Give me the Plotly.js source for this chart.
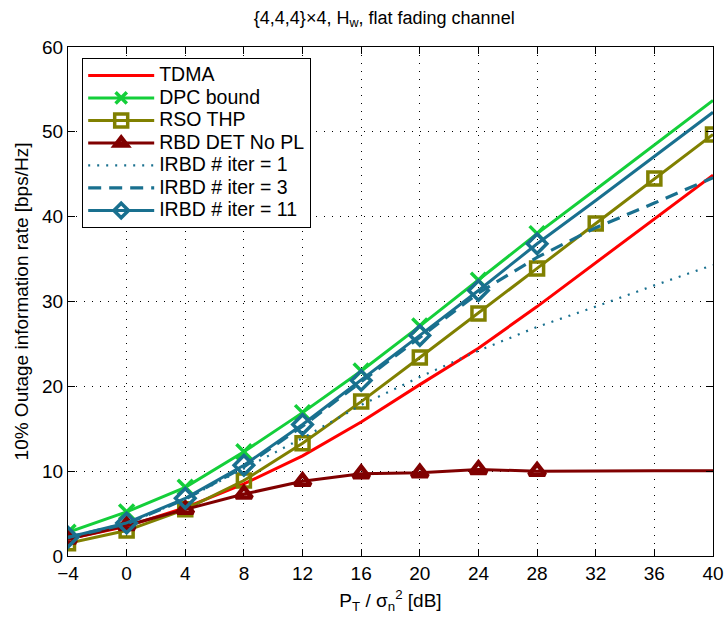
<!DOCTYPE html>
<html><head><meta charset="utf-8">
<script src="https://cdn.plot.ly/plotly-3.0.1.min.js"></script>
<style>body{margin:0;background:#fff}#chart{width:725px;height:622px}</style>
</head><body><div id="chart"></div>
<script>
const snr = [-4, 0, 4, 8, 12, 16, 20, 24, 28, 32, 36, 40];
const tdma = [2.0, 3.5, 5.7, 8.5, 11.8, 15.8, 20.2, 24.5, 29.4, 34.6, 39.8, 44.9];
const dpc = [2.8, 5.2, 8.1, 12.3, 16.9, 21.8, 27.1, 32.5, 38.0, 43.2, 48.5, 53.7];
const rsoThp = [1.5, 3.0, 5.5, 8.9, 13.3, 18.2, 23.4, 28.6, 33.9, 39.2, 44.5, 49.7];
const rbdDet = [2.0, 3.6, 5.5, 7.3, 8.8, 9.7, 9.8, 10.2, 10.0, 10.05, 10.05, 10.05];
const irbd1 = [2.2, 3.8, 6.7, 10.3, 13.9, 17.8, 21.1, 24.2, 27.0, 29.4, 31.9, 34.3];
const irbd3 = [2.2, 3.8, 6.7, 10.5, 15.3, 20.5, 25.8, 31.0, 35.2, 38.7, 41.6, 44.6];
const irbd11 = [2.2, 3.9, 6.8, 10.7, 15.5, 20.7, 26.0, 31.3, 36.8, 41.9, 47.1, 52.3];
const names = ['TDMA', 'DPC bound', 'RSO THP', 'RBD DET No PL', 'IRBD # iter = 1', 'IRBD # iter = 3', 'IRBD # iter = 11'];
const yTicks = [0, 10, 20, 30, 40, 50, 60];

const cRed = '#ff0000', cGreen = '#14cf3a', cOlive = '#808000', cMaroon = '#800000', cBlue = '#19708f';
const upTo28 = (s) => snr.map(v => v <= 28 ? s : 0);
const lg = (t) => '<span style="font-size:19.5px">' + t + '</span>';

const traces = [
  {x: snr, y: tdma, name: lg(names[0]), mode: 'lines', line: {color: cRed, width: 3}},
  {x: snr, y: dpc, name: lg(names[1]), mode: 'lines+markers', line: {color: cGreen, width: 3},
   marker: {symbol: 'x-thin-open', size: upTo28(15), opacity: 1, color: cGreen, line: {color: cGreen, width: 3.5}}},
  {x: snr, y: rsoThp, name: lg(names[2]), mode: 'lines+markers', line: {color: cOlive, width: 3},
   marker: {symbol: 'square-open', size: 13, opacity: 1, color: cOlive, line: {color: cOlive, width: 3.5}}},
  {x: snr, y: rbdDet, name: lg(names[3]), mode: 'lines+markers', line: {color: cMaroon, width: 3},
   marker: {symbol: 'triangle-up-open', size: upTo28(14), opacity: 1, color: cMaroon, line: {color: cMaroon, width: 4.5}}},
  {x: snr, y: irbd1, name: lg(names[4]), mode: 'lines', line: {color: cBlue, width: 2.2, dash: '2px,7px'}},
  {x: snr, y: irbd3, name: lg(names[5]), mode: 'lines', line: {color: cBlue, width: 3.2, dash: '13px,8px'}},
  {x: snr, y: irbd11, name: lg(names[6]), mode: 'lines+markers', line: {color: cBlue, width: 3},
   marker: {symbol: 'diamond-open', size: upTo28(15), opacity: 1, color: cBlue, line: {color: cBlue, width: 3.5}}}
];

const axisCommon = {
  showline: true, linecolor: '#000', linewidth: 1, mirror: 'ticks', ticks: 'inside', ticklen: 7,
  tickcolor: '#000', showgrid: true, gridcolor: '#000', griddash: '1px,7px', gridwidth: 1, zeroline: false,
  tickfont: {family: 'Liberation Sans, Arial, sans-serif', size: 19, color: '#000'}
};

const layout = {
  width: 725, height: 622,
  margin: {l: 68, r: 12, t: 47, b: 66},
  paper_bgcolor: '#fff', plot_bgcolor: '#fff',
  font: {family: 'Liberation Sans, Arial, sans-serif', color: '#000'},
  title: {text: '{4,4,4}×4, H<sub>w</sub>, flat fading channel', x: 0.53, xanchor: 'center', y: 0.972, yanchor: 'middle',
          font: {size: 18, color: '#000'}},
  xaxis: Object.assign({}, axisCommon, {range: [-4, 40], tickmode: 'array', tickvals: snr,
    title: {text: 'P<sub>T</sub> / σ<sub>n</sub><sup>2</sup> [dB]', standoff: 10, font: {size: 19}}}),
  yaxis: Object.assign({}, axisCommon, {range: [0, 60], tickmode: 'array', tickvals: yTicks,
    title: {text: '10% Outage information rate [bps/Hz]', standoff: 8, font: {size: 19}}}),
  legend: {x: 0.022, y: 0.978, xanchor: 'left', yanchor: 'top', bgcolor: '#fff', bordercolor: '#000', borderwidth: 1,
    font: {size: 15, color: '#000'}, itemwidth: 66, tracegroupgap: 0},
  showlegend: true
};

Plotly.newPlot('chart', traces, layout, {displayModeBar: false, staticPlot: true});
</script></body></html>
